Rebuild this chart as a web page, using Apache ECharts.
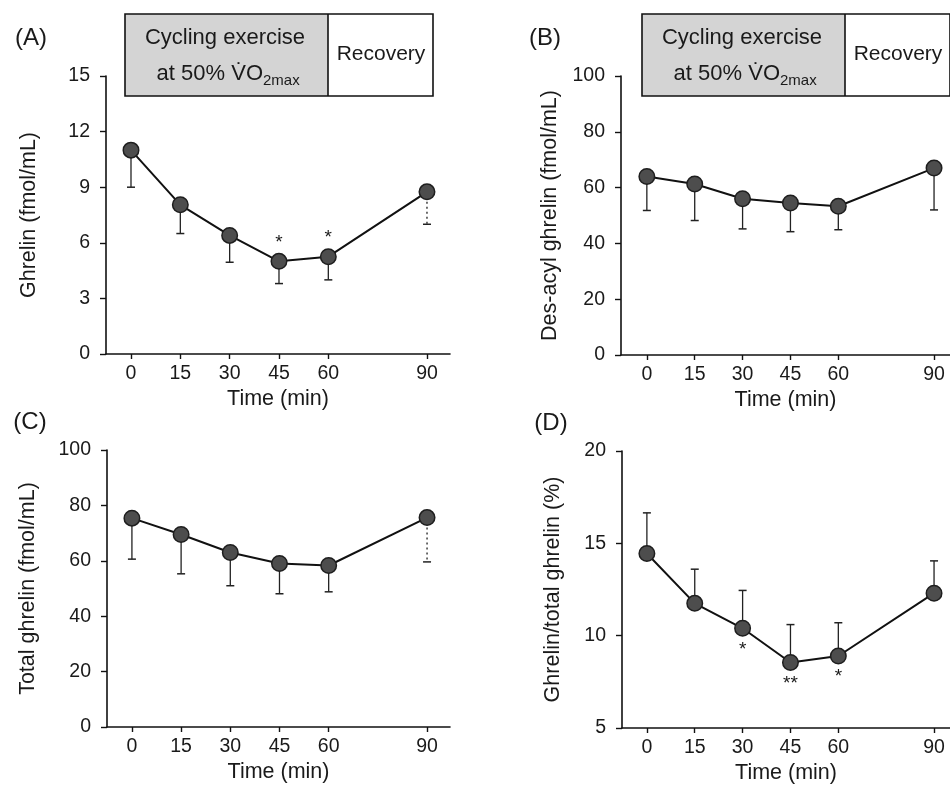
<!DOCTYPE html>
<html>
<head>
<meta charset="utf-8">
<script src="https://cdn.jsdelivr.net/npm/echarts@6/dist/echarts.min.js"></script>
<style>
html,body{margin:0;padding:0;background:#fff;}
#chart{width:950px;height:785px;}
</style>
</head>
<body>
<div id="chart"></div>
<script>
// ---- data ----
const times = [0, 15, 30, 45, 60, 90];
const xTickValues = [0, 15, 30, 45, 60, 90];

const ghrelinMean = [11.0, 8.05, 6.4, 5.0, 5.25, 8.75];
const ghrelinSD   = [2.0, 1.55, 1.45, 1.2, 1.25, 1.75];
const ghrelinSig  = ['', '', '', '*', '*', ''];

const desAcylMean = [64.0, 61.3, 56.0, 54.5, 53.3, 67.0];
const desAcylSD   = [12.2, 13.1, 10.8, 10.3, 8.4, 15.0];

const totalMean = [75.4, 69.5, 63.0, 59.0, 58.3, 75.6];
const totalSD   = [14.8, 14.2, 12.0, 10.9, 9.5, 16.0];

const ratioMean = [14.45, 11.75, 10.4, 8.55, 8.9, 12.3];
const ratioSD   = [2.2, 1.85, 2.05, 2.05, 1.8, 1.75];
const ratioSig  = ['', '', '*', '**', '*', ''];

const yTicksA = [0, 3, 6, 9, 12, 15];
const yTicksB = [0, 20, 40, 60, 80, 100];
const yTicksC = [0, 20, 40, 60, 80, 100];
const yTicksD = [5, 10, 15, 20];

// ---- layout / style ----
const FONT = '"Liberation Sans", Arial, Helvetica, sans-serif';
const INK = '#1a1a1a';

const panels = [
  {grid:{left:106, top:76, width:344, height:278}, xMin:-7.6, xMax:97, ticks:yTicksA,
   yName:'Ghrelin (fmol/mL)', nameGap:66, mean:ghrelinMean, sd:ghrelinSD, dir:-1, sig:ghrelinSig, sigPos:'top', dotted:[5]},
  {grid:{left:621, top:76, width:329, height:279}, xMin:-8.1, xMax:95, ticks:yTicksB,
   yName:'Des-acyl ghrelin (fmol/mL)', nameGap:60, mean:desAcylMean, sd:desAcylSD, dir:-1, sig:null, sigPos:'top', dotted:[]},
  {grid:{left:107, top:450, width:343, height:277}, xMin:-7.6, xMax:97, ticks:yTicksC,
   yName:'Total ghrelin (fmol/mL)', nameGap:68, mean:totalMean, sd:totalSD, dir:-1, sig:null, sigPos:'top', dotted:[5]},
  {grid:{left:622, top:451, width:328, height:277}, xMin:-7.8, xMax:95, ticks:yTicksD,
   yName:'Ghrelin/total ghrelin (%)', nameGap:58, mean:ratioMean, sd:ratioSD, dir:1, sig:ratioSig, sigPos:'bottom', dotted:[]}
];

const grids = [], xAxes = [], yAxes = [], series = [];
panels.forEach((p, k) => {
  grids.push(Object.assign({containLabel:false}, p.grid));
  xAxes.push({
    type:'value', gridIndex:k, min:p.xMin, max:p.xMax,
    name:'Time (min)', nameLocation:'middle', nameGap:34,
    nameTextStyle:{fontFamily:FONT, fontSize:21.5, color:INK},
    axisLine:{onZero:false, lineStyle:{color:'#111', width:1.6}},
    axisTick:{show:true, length:5, inside:false, customValues:xTickValues, lineStyle:{color:'#111', width:1.4}},
    axisLabel:{customValues:xTickValues, margin:10, fontFamily:FONT, fontSize:19.5, color:INK},
    splitLine:{show:false}
  });
  const ymin = p.ticks[0], ymax = p.ticks[p.ticks.length-1];
  yAxes.push({
    type:'value', gridIndex:k, min:ymin, max:ymax, interval:p.ticks[1]-p.ticks[0],
    name:p.yName, nameLocation:'middle', nameGap:p.nameGap, nameRotate:90,
    nameTextStyle:{fontFamily:FONT, fontSize:21.5, color:INK},
    axisLine:{show:true, onZero:false, lineStyle:{color:'#111', width:1.6}},
    axisTick:{show:true, length:6, inside:false, lineStyle:{color:'#111', width:1.4}},
    axisLabel:{margin:16, fontFamily:FONT, fontSize:19.5, color:INK},
    splitLine:{show:false}
  });
  const dotted = p.dotted;
  series.push({
    type:'custom', xAxisIndex:k, yAxisIndex:k, z:1, silent:true,
    data: times.map((t,i)=>[t, p.mean[i], p.sd[i], i]),
    renderItem:(params, api) => {
      const x = api.value(0), m = api.value(1), e = api.value(2), idx = api.value(3);
      const p0 = api.coord([x, m]);
      const p1 = api.coord([x, m + p.dir*e]);
      const isDot = dotted.indexOf(idx) >= 0;
      return {type:'group', children:[
        {type:'line', shape:{x1:p0[0], y1:p0[1], x2:p1[0], y2:p1[1]},
         style:{stroke:'#222', lineWidth:1.3, lineDash:isDot ? [2,3] : null}},
        {type:'line', shape:{x1:p1[0]-4, y1:p1[1], x2:p1[0]+4, y2:p1[1]},
         style:{stroke:'#222', lineWidth:1.5}}
      ]};
    }
  });
  series.push({
    type:'line', xAxisIndex:k, yAxisIndex:k, z:3,
    data: times.map((t,i)=>[t, p.mean[i]]),
    symbol:'circle', symbolSize:15.5,
    itemStyle:{color:'#4d4d4d', borderColor:'#1e1e1e', borderWidth:1.5},
    lineStyle:{color:'#111', width:2},
    label:{show:!!p.sig, position:p.sigPos, distance:p.sigPos==='top'?1:3,
      fontFamily:FONT, fontSize:19, color:INK,
      formatter:(q)=> p.sig ? p.sig[q.dataIndex] : ''},
    animation:false
  });
});

function headerBox(dx) {
  return [
    {type:'rect', shape:{x:125+dx, y:14, width:203, height:82}, style:{fill:'#d4d4d4'}, z:10},
    {type:'rect', shape:{x:125+dx, y:14, width:308, height:82}, style:{fill:'none', stroke:'#111', lineWidth:1.6}, z:11},
    {type:'line', shape:{x1:328+dx, y1:14, x2:328+dx, y2:96}, style:{stroke:'#111', lineWidth:1.6}, z:11},
    {type:'text', x:225+dx, y:38, z:12, style:{text:'Cycling exercise', font:'22px '+FONT, fill:INK, textAlign:'center', textVerticalAlign:'middle'}},
    {type:'text', x:263+dx, y:74, z:12, style:{text:'at 50% V\u0307O', font:'22px '+FONT, fill:INK, textAlign:'right', textVerticalAlign:'middle'}},
    {type:'text', x:263+dx, y:81, z:12, style:{text:'2max', font:'15px '+FONT, fill:INK, textAlign:'left', textVerticalAlign:'middle'}},
    {type:'text', x:381+dx, y:54, z:12, style:{text:'Recovery', font:'21px '+FONT, fill:INK, textAlign:'center', textVerticalAlign:'middle'}}
  ];
}
const panelLabels = [
  {t:'(A)', x:31, y:38}, {t:'(B)', x:545, y:38}, {t:'(C)', x:30, y:422}, {t:'(D)', x:551, y:423}
].map(l => ({type:'text', x:l.x, y:l.y, z:12,
  style:{text:l.t, font:'24px '+FONT, fill:INK, textAlign:'center', textVerticalAlign:'middle'}}));

const chart = echarts.init(document.getElementById('chart'), null, {renderer:'canvas'});
chart.setOption({
  backgroundColor:'#fff',
  animation:false,
  grid:grids, xAxis:xAxes, yAxis:yAxes, series:series,
  graphic:[].concat(headerBox(0), headerBox(517), panelLabels)
});
</script>
</body>
</html>
